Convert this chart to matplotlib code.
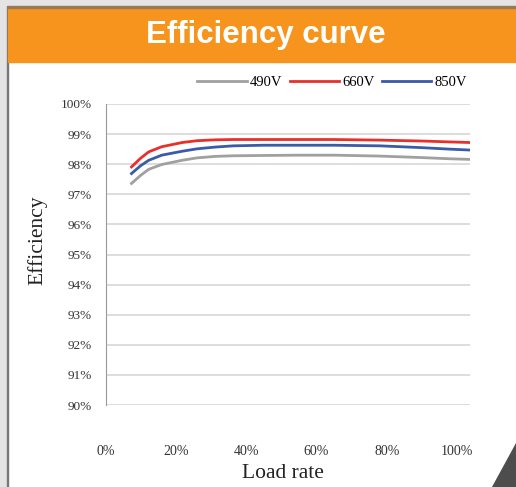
import numpy as np
import matplotlib
matplotlib.use("Agg")
import matplotlib.pyplot as plt
from matplotlib.patches import Rectangle, Polygon

# values (load rate %, efficiency %)
load = [7.4, 10, 12.3, 16, 21.8, 26, 31.3, 36.4, 45, 55, 65, 78, 90, 98, 103.7]
eff_490 = [97.36, 97.63, 97.83, 97.99, 98.13, 98.21, 98.26, 98.28, 98.29, 98.30, 98.30, 98.27, 98.22, 98.18, 98.16]
eff_660 = [97.91, 98.20, 98.41, 98.58, 98.72, 98.78, 98.81, 98.82, 98.82, 98.82, 98.82, 98.80, 98.77, 98.74, 98.72]
eff_850 = [97.69, 97.95, 98.13, 98.30, 98.43, 98.51, 98.57, 98.61, 98.63, 98.63, 98.63, 98.61, 98.55, 98.50, 98.47]
series = [("490V", eff_490, "#a0a0a0"), ("660V", eff_660, "#e8302a"), ("850V", eff_850, "#3a5ba8")]
yticks = list(range(90, 101))
xticks = [0, 20, 40, 60, 80, 100]

W, H = 516, 487
fig = plt.figure(figsize=(W / 100, H / 100), dpi=100)
fig.patch.set_facecolor("white")

# frame decorations
fig.patches.append(Rectangle((0, 0), 1, 1, transform=fig.transFigure, color="#e4e4e4", zorder=-5))
fig.patches.append(Rectangle((8 / W, 0), 1, (H - 62) / H, transform=fig.transFigure, color="white", zorder=-4))
fig.patches.append(Rectangle((7 / W, 0), 1.2 / W, (H - 6) / H, transform=fig.transFigure, color="#777777", zorder=-3))
fig.patches.append(Rectangle((8 / W, (H - 62) / H), 1, 55 / H, transform=fig.transFigure, color="#f7941d", zorder=-3))
fig.patches.append(Rectangle((8 / W, (H - 7.5) / H), 1, 1.2 / H, transform=fig.transFigure, color="#9a7a55", zorder=-3))
fig.patches.append(Polygon([(492 / W, 0), (516 / W, 0), (516 / W, 44 / H)], closed=True,
                           transform=fig.transFigure, color="#4d4d4d", zorder=5))
fig.text(266 / W, 1 - 35 / H, "Efficiency curve", color="white", fontsize=22.5, fontweight="bold",
         family="Liberation Sans", ha="center", va="center")

ax = fig.add_axes([105.5 / W, (H - 405) / H, (470 - 105.5) / W, (405 - 104) / H])
for name, vals, col in series:
    ax.plot(load, vals, color=col, lw=2, label=name)

ax.set_xlim(0, 103.7)
ax.set_ylim(90, 100)
ax.set_yticks(yticks)
ax.set_yticklabels([f"{v}%" for v in yticks])
ax.set_xticks(xticks)
ax.set_xticklabels([f"{v}%" for v in xticks])
ax.grid(axis="y", color="#dddddd", lw=1.4)
ax.set_axisbelow(True)
for s in ["top", "right", "bottom"]:
    ax.spines[s].set_visible(False)
ax.spines["left"].set_color("#999999")
ax.tick_params(axis="both", length=0, labelsize=10, labelcolor="#333333")
ax.tick_params(axis="x", pad=29)
ax.tick_params(axis="y", pad=10, labelsize=9.5)
for lab in ax.get_xticklabels() + ax.get_yticklabels():
    lab.set_family("Liberation Serif")

ax.set_ylabel("Efficiency", family="Liberation Serif", fontsize=15.5, color="#222222")
ax.yaxis.set_label_coords(-0.158, 0.548)
fig.text(283 / W, 1 - 474 / H, "Load rate", family="Liberation Serif", fontsize=15.5,
         color="#222222", ha="center", va="center")

leg = ax.legend(loc="center", bbox_to_anchor=(332 / W, 1 - 82 / H), bbox_transform=fig.transFigure,
                ncol=3, frameon=False, prop={"family": "Liberation Serif", "size": 10.5},
                handlelength=3.4, handletextpad=0.2, columnspacing=0.5, borderaxespad=0)

fig.savefig("out.png", dpi=100)
